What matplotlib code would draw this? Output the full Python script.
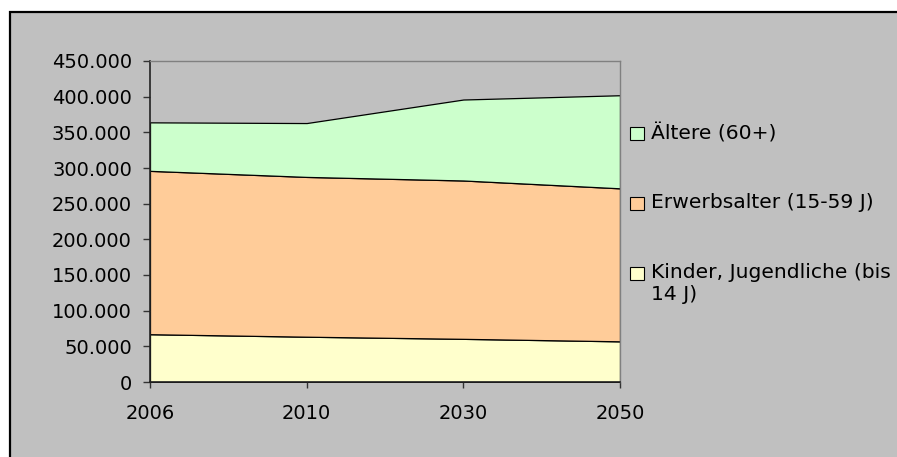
import matplotlib
matplotlib.use("Agg")
import matplotlib.pyplot as plt
from matplotlib.patches import Rectangle
from matplotlib.lines import Line2D
from matplotlib.ticker import FuncFormatter

# Population by age group (persons)
years = ["2006", "2010", "2030", "2050"]
kinder = [67000, 63500, 60500, 57000]
erwerb = [229000, 224000, 222000, 214500]
aeltere = [68000, 75500, 113500, 130500]

labels = ["Kinder, Jugendliche (bis\n14 J)", "Erwerbsalter (15-59 J)", "Ältere (60+)"]
colors = ["#FFFFCC", "#FFCC99", "#CCFFCC"]
yticks = [0, 50000, 100000, 150000, 200000, 250000, 300000, 350000, 400000, 450000]

W, H = 897, 457
plt.rcParams["font.family"] = ["DejaVu Sans"]
fig = plt.figure(figsize=(W / 100, H / 100), dpi=100)
fig.patch.set_facecolor("white")

bg = "#C0C0C0"
# chart frame: grey panel, black border along its left and top edges
left_f, top_f = 9.5 / W, 1 - 11.5 / H
fig.patches.append(Rectangle((left_f, 0), 1 - left_f, top_f,
                             transform=fig.transFigure, facecolor=bg,
                             edgecolor="none", zorder=-5))
fig.lines.append(Line2D([left_f, left_f, 1], [0, top_f, top_f],
                        transform=fig.transFigure, color="black",
                        linewidth=1.6, solid_joinstyle="miter", zorder=-4))

ax = fig.add_axes([150 / W, (H - 382) / H, 470 / W, 321 / H])
ax.set_facecolor(bg)
x = list(range(len(years)))
ax.stackplot(x, kinder, erwerb, aeltere, colors=colors,
             edgecolor="black", linewidth=0.9)

ax.set_xlim(0, len(years) - 1)
ax.set_ylim(0, 450000)
ax.set_xticks(x)
ax.set_xticklabels(years)
ax.set_yticks(yticks)
ax.yaxis.set_major_formatter(FuncFormatter(lambda v, p: f"{int(v):,}".replace(",", ".")))

for s in ("top", "right"):
    ax.spines[s].set_color("#808080")
    ax.spines[s].set_linewidth(1.0)
for s in ("left", "bottom"):
    ax.spines[s].set_color("#222222")
    ax.spines[s].set_linewidth(1.2)

ax.tick_params(axis="y", direction="out", length=5, width=1, color="#333333",
               labelsize=14, pad=8)
ax.tick_params(axis="x", direction="out", length=4.5, width=1, color="#333333",
               labelsize=14, pad=11)

# legend: swatches and labels placed to the right of the plot area
entries = [(2, 133), (1, 203), (0, 273)]
for idx, yc in entries:
    fig.patches.append(Rectangle((630 / W, (H - yc - 7) / H), 14 / W, 13 / H,
                                 transform=fig.transFigure,
                                 facecolor=colors[idx], edgecolor="black",
                                 linewidth=0.8, zorder=3))
    fig.text(651 / W, (H - yc + 10) / H, labels[idx], fontsize=14.6,
             color="black", ha="left", va="top", linespacing=1.2)

fig.savefig("out.png", dpi=100, facecolor="white")
